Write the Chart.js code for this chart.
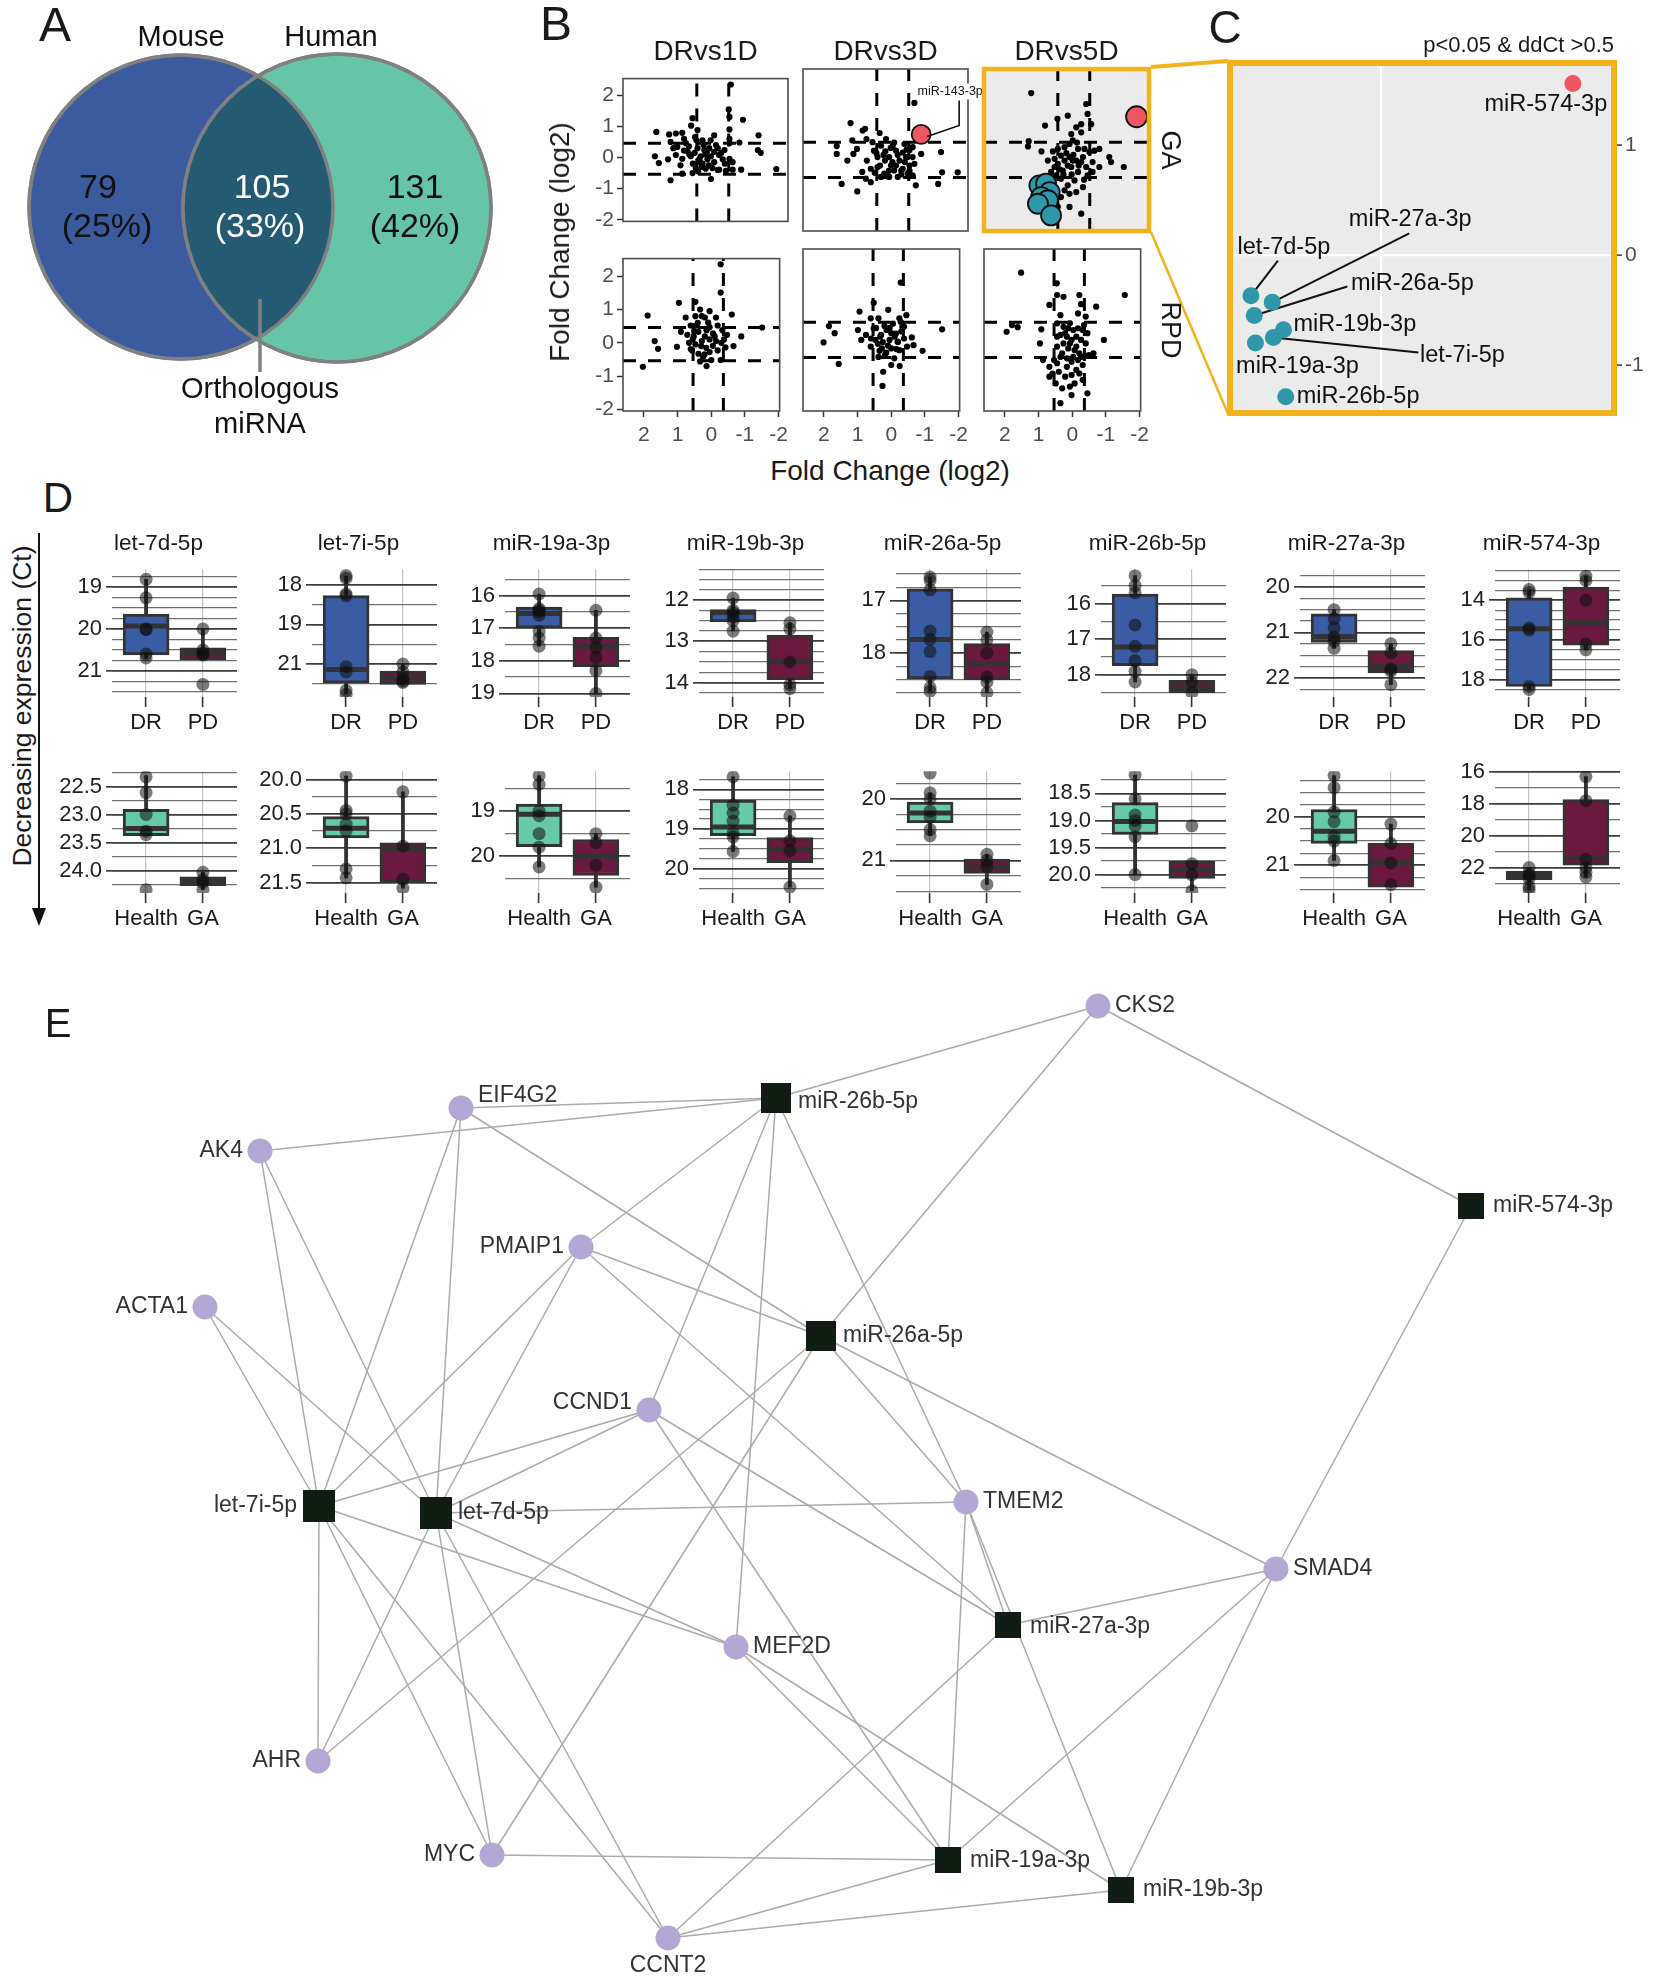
<!DOCTYPE html>
<html>
<head>
<meta charset="utf-8">
<title>miRNA figure</title>
<script src="https://cdn.jsdelivr.net/npm/chart.js@4.4.1/dist/chart.umd.min.js"></script>
<style>
  body { margin: 0; background: #fff; }
  #page { position: relative; width: 1654px; height: 1978px; overflow: hidden; background: #fff;
          font-family: "Liberation Sans", Arial, Helvetica, sans-serif; color: #1a1a1a; }
  #page canvas, #page svg { position: absolute; }
  .lbl { position: absolute; white-space: nowrap; line-height: 1; }
</style>
</head>
<body>
<div id="page"></div>
<script>
// ---------------- A: detected miRNAs, mouse vs human ----------------
var vennSets = ['Mouse', 'Human'];
var vennCounts = [79, 105, 131];
var vennShares = ['(25%)', '(33%)', '(42%)'];
var vennNote = ['Orthologous', 'miRNA'];

// ---------------- B: fold change (log2), x axis reversed ----------------
var bColumns = ['DRvs1D', 'DRvs3D', 'DRvs5D'];
var bRows = ['GA', 'RPD'];
var bTicks = [2, 1, 0, -1, -2];
var bCutX = [0.54, -0.36];
var bCutY = [0.46, -0.54];

var b1D_GA = [[-0.42,2.34],[-0.36,1.54],[-0.76,1.21],[-0.38,0.9],[0.66,1.26],[0.7,1.02],[0.52,0.88],[1.68,0.82],[1.32,0.74],[1.13,0.77],[0.95,0.79],[-1.2,0.71],[-0.66,0.48],[0.05,0.71],[0.59,0.65],[0.38,0.55],[0.85,0.46],[1.28,0.5],[1.09,0.34],[0.76,0.36],[0.52,0.3],[0.33,0.24],[0.19,0.3],[0.05,0.18],[-0.09,0.08],[-0.24,0.24],[-1.18,0.24],[-1.26,0.15],[1.72,0.04],[1.61,-0.18],[1.35,-0.06],[1.13,0.08],[0.95,-0.04],[0.9,0.22],[0.71,0.04],[0.43,0.04],[0.24,-0.06],[0.05,-0.15],[-0.19,-0.06],[-0.38,-0.04],[-0.47,-0.15],[0.57,-0.34],[0.29,-0.36],[0.1,-0.34],[-0.09,-0.39],[-0.28,-0.43],[-0.47,-0.39],[-0.71,-0.39],[-1.7,-0.37],[0.95,-0.52],[0.66,-0.5],[1.28,-0.73],[0.14,-0.69],[0.47,-0.06],[0.38,-0.2],[0.14,0.04],[-0.05,0.3],[-0.38,0.46],[0.3,0.1],[0.6,0.15],[0.8,0.2],[0.45,-0.15],[0.2,-0.25],[-0.15,0.15],[0.0,0.4],[0.65,-0.2],[0.9,0.6],[1.0,-0.25],[0.15,0.55],[-0.25,-0.2],[0.35,0.4],[0.75,0.1],[-0.05,-0.4],[0.5,-0.45],[1.2,0.3],[0.25,0.2],[0.55,0.55],[0.4,-0.3],[-0.38,1.3],[-0.38,0.6]];
var b3D_GA = [[1.28,1.0],[-0.52,1.57],[0.46,0.72],[0.87,0.84],[1.67,0.35],[1.67,0.13],[1.53,-0.72],[1.09,-0.93],[-1.27,0.18],[-1.74,-0.39],[-1.3,-0.39],[-1.19,-0.72],[-0.56,-0.76],[-0.8,0.75],[0.94,0.79],[1.23,0.51],[0.83,0.55],[0.66,0.46],[1.2,0.13],[1.37,-0.06],[1.1,0.27],[0.82,-0.06],[0.95,-0.38],[0.85,-0.57],[0.71,-0.29],[0.52,0.04],[0.42,0.36],[0.28,0.55],[0.19,0.04],[0.14,-0.2],[0.33,-0.43],[0.52,-0.24],[0.62,0.22],[0.0,0.22],[-0.1,-0.06],[-0.15,-0.34],[-0.05,-0.52],[-0.24,0.41],[-0.33,0.04],[-0.38,-0.2],[0.42,-0.52],[0.19,-0.52],[0.71,-0.67],[0.09,0.36],[-0.19,0.17],[0.05,-0.34],[0.31,-0.06],[-0.47,0.32],[-0.47,-0.48],[-0.38,0.23],[-0.28,0.04],[-0.47,0.04],[-0.38,-0.34],[-0.19,-0.29],[-0.52,-0.15],[-0.33,-0.43],[-0.71,0.13],[0.3,0.2],[0.1,-0.1],[-0.05,0.1],[0.2,-0.35],[0.45,-0.2],[0.6,-0.4],[0.0,-0.2],[-0.25,-0.1],[0.35,0.1],[0.15,0.3],[-0.15,-0.45],[0.55,0.15],[0.25,-0.5],[-0.3,0.25],[0.05,0.45]];
var b5D_GA = [[1.29,1.85],[-0.26,1.54],[-0.3,1.26],[0.26,1.21],[0.55,1.12],[0.9,0.93],[-0.12,0.97],[-0.4,0.97],[0.16,0.69],[0.02,0.88],[-0.12,0.74],[1.38,0.34],[1.36,0.49],[1.0,0.2],[0.68,0.2],[0.54,0.27],[0.35,0.32],[0.21,0.41],[0.12,0.51],[-0.03,0.27],[-0.21,0.27],[-0.35,0.18],[-0.49,0.22],[-0.63,0.27],[-0.91,0.04],[-0.96,-0.1],[-1.32,-0.24],[-0.63,-0.24],[-0.44,-0.38],[-0.26,-0.24],[-0.12,-0.1],[0.02,-0.06],[0.21,0.04],[0.35,-0.06],[0.45,0.08],[0.54,-0.15],[0.63,-0.24],[0.73,-0.38],[0.59,-0.48],[0.4,-0.34],[0.16,-0.24],[-0.03,-0.38],[-0.3,-0.48],[0.07,-0.62],[0.26,-0.76],[0.35,-0.9],[0.45,-1.09],[0.21,-1.0],[0.02,-0.95],[-0.17,-0.81],[0.54,-1.37],[0.21,-1.37],[-0.12,-1.56],[0.45,-0.57],[-0.44,-0.1],[-0.17,0.04],[0.26,-0.2],[0.12,-0.06],[0.63,-0.01],[0.82,-0.06],[0.3,0.15],[0.1,0.1],[-0.05,-0.2],[0.5,-0.3],[0.7,-0.6],[0.6,-0.85],[0.38,-0.45],[-0.2,-0.6],[0.15,-0.45],[0.0,0.45]];
var b1D_RPD = [[-0.28,2.36],[-0.28,1.51],[0.47,1.23],[0.96,1.2],[1.89,0.82],[-1.51,0.46],[1.68,0.05],[1.58,-0.18],[1.02,-0.12],[2.03,-0.72],[0.14,-0.7],[-0.61,0.85],[-0.89,0.19],[-0.66,-0.1],[0.76,0.76],[0.33,1.0],[0.05,0.95],[0.61,0.52],[0.47,0.8],[0.19,0.76],[-0.14,0.76],[-0.19,0.52],[0.9,0.33],[0.71,0.24],[0.52,0.19],[0.38,0.33],[0.14,0.38],[-0.05,0.28],[-0.33,0.38],[-0.47,0.24],[0.66,0.0],[0.47,-0.05],[0.28,0.05],[0.05,0.1],[-0.14,0.05],[-0.38,0.1],[-0.42,-0.14],[0.57,-0.23],[0.38,-0.33],[0.24,-0.42],[0.05,-0.28],[-0.19,-0.23],[-0.28,-0.52],[0.33,-0.56],[0.0,-0.52],[0.43,0.52],[0.05,0.47],[0.19,0.19],[0.61,-0.19],[-0.05,-0.09],[0.09,0.61],[0.28,0.8],[0.3,-0.1],[0.15,-0.15],[0.5,0.35],[-0.1,0.2],[0.4,0.6],[0.2,-0.35],[-0.3,0.0],[0.55,0.1]];
var b3D_RPD = [[2.01,-0.11],[1.85,0.35],[1.68,0.15],[1.56,-0.72],[0.94,0.76],[0.52,1.01],[0.26,-1.34],[0.24,-0.94],[-0.28,1.58],[0.09,0.81],[0.38,0.57],[0.99,0.24],[0.89,-0.04],[0.75,0.1],[0.61,-0.23],[0.52,0.28],[0.47,-0.04],[0.33,0.05],[0.28,-0.28],[0.38,-0.52],[0.19,-0.47],[0.14,0.24],[0.05,-0.04],[0.0,-0.28],[-0.05,0.42],[-0.14,0.14],[-0.19,-0.09],[-0.09,-0.56],[-0.24,-0.33],[-0.33,0.33],[-0.38,0.0],[-0.47,-0.23],[0.61,0.57],[0.0,-0.75],[-0.24,0.57],[-1.51,0.26],[-0.93,-0.35],[-0.66,-0.19],[-0.61,0.03],[-0.25,-0.78],[-0.45,0.66],[-0.38,0.33],[-0.28,0.47],[0.3,0.1],[0.1,-0.2],[-0.1,0.05],[0.2,0.35],[0.4,-0.15],[0.0,0.15],[-0.2,-0.1],[0.15,-0.4],[0.45,0.3],[-0.3,0.2],[0.25,-0.1],[0.05,0.3],[-0.15,-0.3],[0.35,-0.35],[0.6,0.0]];
var b5D_RPD = [[1.52,1.86],[-1.56,1.23],[0.46,1.56],[0.45,1.23],[0.26,1.18],[-0.21,1.23],[-0.26,0.97],[-0.17,0.71],[-0.4,0.62],[-0.71,0.9],[0.68,0.95],[0.35,0.66],[1.95,0.19],[1.79,0.38],[1.62,0.32],[0.92,0.26],[0.96,-0.14],[-0.94,-0.04],[0.45,0.43],[0.26,0.33],[0.12,0.29],[-0.03,0.24],[-0.17,0.29],[-0.31,0.24],[-0.45,0.15],[0.35,0.1],[0.16,0.05],[0.02,-0.04],[-0.12,0.05],[-0.26,-0.04],[-0.4,-0.14],[0.26,-0.14],[0.45,-0.23],[0.12,-0.28],[-0.07,-0.33],[-0.21,-0.42],[-0.49,-0.47],[-0.63,-0.42],[0.87,-0.61],[0.68,-0.8],[0.54,-0.61],[0.35,-0.52],[0.16,-0.56],[0.02,-0.66],[-0.17,-0.61],[-0.31,-0.75],[0.59,-0.99],[0.4,-0.94],[0.21,-1.08],[0.02,-1.03],[-0.21,-0.99],[-0.31,-1.17],[0.68,-1.08],[0.49,-1.27],[0.3,-1.41],[0.07,-1.36],[-0.07,-1.27],[-0.45,-1.55],[0.02,-1.6],[0.35,-1.83],[0.21,0.15],[0.07,-0.14],[-0.12,-0.23],[0.3,-0.42],[-0.03,-0.52],[0.16,-0.8],[-0.12,-0.89],[0.45,-0.7],[-0.26,-0.52],[0.07,0.43],[-0.35,0.38],[0.45,0.05]];
var b3D_GA_up = [[-0.71, 0.68]];
var b3D_GA_upNames = ['miR-143-3p'];
var b5D_GA_up = [[-1.68, 1.18]];
var b5D_GA_down = [[1.06,-0.76],[0.87,-0.71],[0.77,-0.95],[1.01,-1.09],[0.82,-1.18],[1.10,-1.28],[0.73,-1.61]];

// ---------------- C: p<0.05 & ddCt > 0.5 (DRvs5D, GA) ----------------
var cNames = ['miR-574-3p', 'let-7d-5p', 'miR-27a-3p', 'miR-26a-5p', 'miR-19b-3p', 'let-7i-5p', 'miR-19a-3p', 'miR-26b-5p'];
var cX = [-1.71, 1.16, 0.97, 1.13, 0.87, 0.96, 1.12, 0.85];
var cY = [1.56, -0.37, -0.43, -0.55, -0.68, -0.75, -0.80, -1.29];
var cTicks = [1, 0, -1];

// ---------------- D: Ct values (lower Ct = higher expression) ----------------
var dMirnas = ['let-7d-5p', 'let-7i-5p', 'miR-19a-3p', 'miR-19b-3p', 'miR-26a-5p', 'miR-26b-5p', 'miR-27a-3p', 'miR-574-3p'];
var dGroupsTop = ['DR', 'PD'];
var dGroupsBottom = ['Health', 'GA'];
// [whisker end (low Ct), Q1, median, Q3, whisker end (high Ct)]
var dBoxDR = [[18.82,19.65,19.93,20.62,20.7],[17.67,18.41,21.21,21.73,22.12],[15.95,16.35,16.55,17.0,17.55],[11.95,12.23,12.3,12.53,12.75],[16.56,16.78,17.74,18.49,18.72],[15.22,15.74,17.22,17.74,18.2],[20.5,20.59,21.09,21.22,21.35],[13.46,13.88,15.44,18.35,18.5]];
var dBoxPD = [[20.0,20.45,20.58,20.74,20.74],[21.0,21.27,21.53,21.77,21.8],[16.45,17.28,17.55,18.18,19.0],[12.55,12.85,13.48,13.93,14.15],[17.6,17.82,18.2,18.5,18.75],[18.0,18.15,18.35,18.5,18.5],[21.25,21.4,21.75,21.89,22.15],[12.78,13.33,15.13,16.27,16.5]];
var dBoxHealth = [[22.3,22.9,23.24,23.37,23.37],[19.95,20.54,20.71,20.85,21.43],[18.21,18.84,19.07,19.79,20.24],[17.68,18.27,18.95,19.17,19.57],[19.9,20.05,20.23,20.39,20.6],[18.16,18.67,19.02,19.26,20.0],[19.15,19.85,20.3,20.55,20.9],[22.0,22.23,22.5,22.76,23.4]];
var dBoxGA = [[24.02,24.1,24.18,24.26,24.33],[20.18,20.92,21.01,21.49,21.58],[19.5,19.63,20.0,20.43,20.69],[18.67,19.22,19.52,19.85,20.47],[20.9,20.98,21.11,21.21,21.39],[19.75,19.75,19.91,20.07,20.3],[20.15,20.54,20.94,21.45,21.45],[16.29,17.74,21.37,21.85,22.6]];
var dPtsDR = [[18.82,19.26,20.0,20.02,20.6,20.69],[17.65,17.75,18.35,18.42,21.1,21.3,22.0,22.15],[15.95,16.4,16.45,16.5,16.6,17.1,17.3,17.55],[11.95,12.25,12.3,12.4,12.5,12.75],[16.56,16.62,16.8,17.58,17.74,17.97,18.44,18.65,18.72],[15.22,15.5,15.7,16.6,17.2,17.6,17.9,18.2],[20.5,20.7,20.9,21.1,21.2,21.35],[13.46,13.6,15.4,15.5,18.35,18.5]];
var dPtsPD = [[20.0,20.5,20.58,20.62,21.32],[21.0,21.3,21.55,21.65,21.7],[16.45,17.3,17.6,17.9,18.3,19.0],[12.55,12.7,13.5,14.05,14.15],[17.6,17.75,18.0,18.45,18.55,18.75],[18.0,18.2,18.5],[21.25,21.45,21.8,21.85,22.15],[12.78,13.0,14.0,16.2,16.5]];
var dPtsHealth = [[22.32,22.6,22.99,23.29,23.35,24.33],[19.95,20.45,20.5,20.65,20.75,21.3,21.43],[18.21,18.4,19.0,19.1,19.5,19.8,20.24],[17.68,18.4,18.6,18.8,19.1,19.2,19.57],[19.58,19.9,20.0,20.2,20.3,20.5,20.6],[18.16,18.6,18.9,19.0,19.1,19.3,20.0],[19.15,19.4,19.9,20.1,20.4,20.5,20.9],[22.0,22.4,22.5,22.7,23.2,23.4]];
var dPtsGA = [[24.02,24.15,24.2,24.33],[20.18,20.97,21.45,21.58],[19.5,19.7,20.2,20.69],[18.67,19.3,19.55,20.47],[20.9,21.0,21.1,21.39],[19.1,19.8,20.0,20.3],[20.15,20.55,20.95,21.4],[16.29,17.8,21.5,22.0,22.3,22.6]];
var dTicksTop = [[19,20,21],[18,19.5,21],[16,17,18,19],[12,13,14],[17,18],[16,17,18],[20,21,22],[14,16,18]];
var dTickLabelsTop = [['19','20','21'],['18','19','21'],['16','17','18','19'],['12','13','14'],['17','18'],['16','17','18'],['20','21','22'],['14','16','18']];
var dTicksBottom = [[22.5,23,23.5,24],[20,20.5,21,21.5],[19,20],[18,19,20],[20,21],[18.5,19,19.5,20],[20,21],[16,18,20,22]];
var dTickLabelsBottom = [['22.5','23.0','23.5','24.0'],['20.0','20.5','21.0','21.5'],['19','20'],['18','19','20'],['20','21'],['18.5','19.0','19.5','20.0'],['20','21'],['16','18','20','22']];

// ---------------- E: miRNA - target gene network ----------------
var eGenes = ['CKS2', 'EIF4G2', 'AK4', 'PMAIP1', 'ACTA1', 'CCND1', 'TMEM2', 'SMAD4', 'MEF2D', 'AHR', 'MYC', 'CCNT2'];
var eMirnas = ['miR-26b-5p', 'miR-574-3p', 'miR-26a-5p', 'let-7i-5p', 'let-7d-5p', 'miR-27a-3p', 'miR-19a-3p', 'miR-19b-3p'];
var eEdges = [
  ['CKS2','miR-26b-5p'],['CKS2','miR-574-3p'],['CKS2','miR-26a-5p'],
  ['EIF4G2','miR-26b-5p'],['EIF4G2','let-7i-5p'],['EIF4G2','let-7d-5p'],['EIF4G2','miR-26a-5p'],
  ['AK4','miR-26b-5p'],['AK4','let-7i-5p'],['AK4','let-7d-5p'],
  ['PMAIP1','miR-26b-5p'],['PMAIP1','let-7i-5p'],['PMAIP1','let-7d-5p'],['PMAIP1','miR-26a-5p'],['PMAIP1','miR-27a-3p'],
  ['ACTA1','let-7i-5p'],['ACTA1','let-7d-5p'],
  ['CCND1','miR-26b-5p'],['CCND1','let-7i-5p'],['CCND1','let-7d-5p'],['CCND1','miR-27a-3p'],['CCND1','miR-19a-3p'],
  ['TMEM2','miR-26b-5p'],['TMEM2','miR-26a-5p'],['TMEM2','let-7d-5p'],['TMEM2','miR-27a-3p'],['TMEM2','miR-19a-3p'],['TMEM2','miR-19b-3p'],
  ['SMAD4','miR-26a-5p'],['SMAD4','miR-27a-3p'],['SMAD4','miR-574-3p'],['SMAD4','miR-19a-3p'],['SMAD4','miR-19b-3p'],
  ['MEF2D','miR-26b-5p'],['MEF2D','let-7i-5p'],['MEF2D','let-7d-5p'],['MEF2D','miR-19a-3p'],['MEF2D','miR-19b-3p'],
  ['AHR','let-7i-5p'],['AHR','let-7d-5p'],['AHR','miR-26a-5p'],
  ['MYC','let-7i-5p'],['MYC','let-7d-5p'],['MYC','miR-26a-5p'],['MYC','miR-19a-3p'],
  ['CCNT2','let-7i-5p'],['CCNT2','let-7d-5p'],['CCNT2','miR-27a-3p'],['CCNT2','miR-19a-3p'],['CCNT2','miR-19b-3p']
];

// ================= layout & style (not data) =================
var FONT = '"Liberation Sans", Arial, Helvetica, sans-serif';
var COL = { blue: '#3A5C9F', green: '#66C5A8', overlap: '#245B73', ring: '#808080',
  dr: '#3A5CA4', pd: '#6B1941', health: '#66C9A9', ga: '#6B1941',
  teal: '#2E98AA', red: '#EF5760', orange: '#F2B21C', panel: '#EBEBEB',
  gene: '#B4A7D5', mir: '#0F1D13', edge: '#ABABAB' };

var vennLayout = { circles: [[181, 207, 152], [337, 208, 154]],
  sets: [[181, 38], [331, 38]], counts: [[98, 189], [262, 189], [415, 189]],
  shares: [[107, 228], [260, 228], [415, 228]], pointer: [[260, 299], [260, 372]],
  note: [[260, 390], [260, 425]] };

var bLeft = [623, 803, 984], bTop = [69, 249], bW = 165, bH = 162;
var bXRange = [-2.03, 2.62], bYRange = [-2.05, 2.53];

// label offsets (px) from each point in C, and leader line end
var cLabelLayout = [
  { dx: -27, dy: 21, align: 'center' },
  { dx: 33, dy: -48, align: 'center', lead: [27, -35] },
  { dx: 138, dy: -83, align: 'center', lead: [137, -69] },
  { dx: 158, dy: -32, align: 'center', lead: [93, -29] },
  { dx: 10, dy: -5, align: 'left' },
  { dx: 189, dy: 18, align: 'center', lead: [145, 15] },
  { dx: 42, dy: 24, align: 'center' },
  { dx: 11, dy: 0, align: 'left' }
];

var dLeft = [112, 312, 505, 699, 896, 1101, 1300, 1495], dW = 125;
var dTop = [560, 762], dH = [137, 131];
var dStepTop = [0.25, 0.75, 0.5, 0.25, 0.25, 0.5, 0.25, 0.5];
var dStepBottom = [0.25, 0.25, 0.5, 0.25, 0.25, 0.25, 0.25, 1];
var dRangeTop = [[18.58,21.62],[17.41,22.25],[15.19,19.11],[11.25,14.35],[16.41,18.83],[15.04,18.62],[19.61,22.42],[12.43,18.88]];
var dRangeBottom = [[22.22,24.39],[19.88,21.65],[18.11,20.82],[17.54,20.62],[19.55,21.53],[18.09,20.34],[19.06,21.57],[15.95,23.6]];

// node positions from the network layout
var eLayout = {
  'CKS2': [1098, 1006], 'EIF4G2': [461, 1108], 'AK4': [260, 1151], 'PMAIP1': [581, 1247], 'ACTA1': [205, 1307],
  'CCND1': [649, 1410], 'TMEM2': [966, 1502], 'SMAD4': [1276, 1569], 'MEF2D': [736, 1647], 'AHR': [318, 1761],
  'MYC': [492, 1855], 'CCNT2': [668, 1938],
  'miR-26b-5p': [776, 1098], 'miR-574-3p': [1471, 1206], 'miR-26a-5p': [821, 1336], 'let-7i-5p': [319, 1506],
  'let-7d-5p': [436, 1513], 'miR-27a-3p': [1008, 1625], 'miR-19a-3p': [948, 1860], 'miR-19b-3p': [1121, 1890]
};
var eLabelPos = {
  'CKS2': ['r', 0], 'EIF4G2': ['r', -12], 'AK4': ['l', 0], 'PMAIP1': ['l', 0], 'ACTA1': ['l', 0], 'CCND1': ['l', -7],
  'TMEM2': ['r', 0], 'SMAD4': ['r', 0], 'MEF2D': ['r', 0], 'AHR': ['l', 0], 'MYC': ['l', 0], 'CCNT2': ['b', 0],
  'miR-26b-5p': ['r', 4], 'miR-574-3p': ['r', 0], 'miR-26a-5p': ['r', 0], 'let-7i-5p': ['l', 0], 'let-7d-5p': ['r', 0],
  'miR-27a-3p': ['r', 2], 'miR-19a-3p': ['r', 1], 'miR-19b-3p': ['r', 0]
};
var eSquare = { 'let-7i-5p': 32, 'let-7d-5p': 32, 'miR-26b-5p': 30, 'miR-26a-5p': 30 };

// ================= helpers =================
Chart.defaults.font.family = FONT;
Chart.defaults.color = '#333';
Chart.defaults.animation = false;
Chart.defaults.responsive = false;
Chart.defaults.maintainAspectRatio = false;
Chart.defaults.events = [];
Chart.defaults.plugins.legend.display = false;
Chart.defaults.plugins.tooltip.enabled = false;

var page = document.getElementById('page');

function canvasAt(left, top, w, h) {
  var c = document.createElement('canvas');
  c.width = w; c.height = h;
  c.style.left = left + 'px'; c.style.top = top + 'px';
  c.style.width = w + 'px'; c.style.height = h + 'px';
  page.appendChild(c);
  return c;
}
function label(txt, x, y, size, o) {
  o = o || {};
  var d = document.createElement('div');
  d.className = 'lbl';
  d.textContent = txt;
  d.style.left = x + 'px'; d.style.top = y + 'px';
  d.style.fontSize = size + 'px';
  if (o.color) d.style.color = o.color;
  var tx = o.align === 'left' ? '0' : (o.align === 'right' ? '-100%' : '-50%');
  d.style.transform = 'translate(' + tx + ',-50%)' + (o.rotate ? ' rotate(' + o.rotate + 'deg)' : '');
  page.appendChild(d);
}
function fixSize(px) { return function (s) { if (s.isHorizontal()) s.height = px; else s.width = px; }; }
function setTicks(vals) { return function (s) { s.ticks = vals.map(function (v) { return { value: v }; }); }; }
function xy(p) { return { x: p[0], y: p[1] }; }

// ================= A =================
(function () {
  var cv = canvasAt(0, 0, 560, 470);
  new Chart(cv, {
    type: 'bubble',
    data: { datasets: [{
      data: vennLayout.circles.map(function (c) { return { x: c[0], y: c[1], r: c[2] }; }),
      backgroundColor: [COL.blue, COL.green], borderColor: COL.ring, borderWidth: 3.5
    }] },
    options: {
      layout: { autoPadding: false, padding: 0 },
      scales: { x: { display: false, min: 0, max: 560 }, y: { display: false, min: 0, max: 470, reverse: true } }
    },
    plugins: [{
      id: 'venn',
      afterDatasetsDraw: function (ch) {
        var ctx = ch.ctx, sx = ch.scales.x, sy = ch.scales.y;
        var els = ch.getDatasetMeta(0).data;
        var a = els[0], b = els[1], ra = a.options.radius, rb = b.options.radius;
        ctx.save();
        ctx.beginPath(); ctx.arc(a.x, a.y, ra, 0, Math.PI * 2); ctx.clip();
        ctx.beginPath(); ctx.arc(b.x, b.y, rb, 0, Math.PI * 2);
        ctx.fillStyle = COL.overlap; ctx.fill();
        ctx.restore();
        ctx.save();
        ctx.strokeStyle = COL.ring; ctx.lineWidth = 3.5;
        [[a, ra], [b, rb]].forEach(function (c) {
          ctx.beginPath(); ctx.arc(c[0].x, c[0].y, c[1], 0, Math.PI * 2); ctx.stroke();
        });
        var p = vennLayout.pointer;
        ctx.beginPath();
        ctx.moveTo(sx.getPixelForValue(p[0][0]), sy.getPixelForValue(p[0][1]));
        ctx.lineTo(sx.getPixelForValue(p[1][0]), sy.getPixelForValue(p[1][1]));
        ctx.stroke();
        ctx.textAlign = 'center'; ctx.textBaseline = 'middle';
        function put(t, pos, size, color) {
          ctx.font = size + 'px ' + FONT; ctx.fillStyle = color;
          ctx.fillText(t, sx.getPixelForValue(pos[0]), sy.getPixelForValue(pos[1]));
        }
        vennSets.forEach(function (s, i) { put(s, vennLayout.sets[i], 29, '#111'); });
        vennCounts.forEach(function (n, i) { put(String(n), vennLayout.counts[i], 34, i === 1 ? '#fff' : '#111'); });
        vennShares.forEach(function (s, i) { put(s, vennLayout.shares[i], 34, i === 1 ? '#fff' : '#111'); });
        vennNote.forEach(function (s, i) { put(s, vennLayout.note[i], 29, '#111'); });
        ctx.restore();
      }
    }]
  });
})();

// ================= B =================
var bSets = [[b1D_GA, b3D_GA, b5D_GA], [b1D_RPD, b3D_RPD, b5D_RPD]];

function bPanel(c, r) {
  var sel = (c === 2 && r === 0);
  var callout = (c === 1 && r === 0);
  var padL = c === 0 ? 44 : 6, padB = r === 1 ? 40 : 6, padT = 6, padR = callout ? 26 : 6;
  var cv = canvasAt(bLeft[c] - padL, bTop[r] - padT, bW + padL + padR, bH + padT + padB);
  var ds = [];
  var dash = { type: 'scatter', showLine: true, pointRadius: 0, borderColor: '#000', borderWidth: 3, borderDash: [13, 12], order: 1 };
  bCutX.forEach(function (t) { ds.push(Object.assign({ data: [{ x: t, y: bYRange[0] }, { x: t, y: bYRange[1] }] }, dash)); });
  bCutY.forEach(function (t) { ds.push(Object.assign({ data: [{ x: bXRange[1], y: t }, { x: bXRange[0], y: t }] }, dash)); });
  ds.push({ type: 'scatter', data: bSets[r][c].map(xy), pointRadius: 3.1, backgroundColor: '#000', borderWidth: 0, order: 2 });
  if (callout) {
    ds.push({ type: 'scatter', data: b3D_GA_up.map(xy), pointRadius: 9.5, backgroundColor: COL.red, borderColor: '#111', borderWidth: 1.8, order: 0 });
  }
  if (sel) {
    ds.push({ type: 'scatter', data: b5D_GA_up.map(xy), pointRadius: 10.5, backgroundColor: COL.red, borderColor: '#111', borderWidth: 1.8, order: 0 });
    ds.push({ type: 'scatter', data: b5D_GA_down.map(xy), pointRadius: 10, backgroundColor: COL.teal, borderColor: '#111', borderWidth: 1.8, order: 0 });
  }
  new Chart(cv, {
    type: 'scatter',
    data: { datasets: ds },
    options: {
      layout: { autoPadding: false, padding: { left: 0, top: padT, right: padR, bottom: 0 } },
      scales: {
        x: { type: 'linear', reverse: true, min: bXRange[0], max: bXRange[1],
             afterBuildTicks: setTicks(bTicks), afterFit: fixSize(padB), border: { display: false },
             grid: { display: r === 1, drawOnChartArea: false, tickLength: 6, tickColor: '#333', tickWidth: 1.5 },
             ticks: { display: r === 1, font: { size: 21 }, color: '#4d4d4d', padding: 6, maxRotation: 0, autoSkip: false } },
        y: { type: 'linear', min: bYRange[0], max: bYRange[1],
             afterBuildTicks: setTicks(bTicks), afterFit: fixSize(padL), border: { display: false },
             grid: { display: c === 0, drawOnChartArea: false, tickLength: 6, tickColor: '#333', tickWidth: 1.5 },
             ticks: { display: c === 0, font: { size: 21 }, color: '#4d4d4d', padding: 3, autoSkip: false } }
      }
    },
    plugins: [{
      id: 'frame',
      beforeDraw: function (ch) {
        if (!sel) return;
        var a = ch.chartArea, ctx = ch.ctx;
        ctx.save(); ctx.fillStyle = COL.panel;
        ctx.fillRect(a.left, a.top, a.right - a.left, a.bottom - a.top);
        ctx.restore();
      },
      afterDraw: function (ch) {
        var a = ch.chartArea, ctx = ch.ctx;
        ctx.save();
        ctx.strokeStyle = sel ? COL.orange : '#4d4d4d';
        ctx.lineWidth = sel ? 4.5 : 1.6;
        ctx.strokeRect(a.left, a.top, a.right - a.left, a.bottom - a.top);
        if (callout) {
          // miR-143-3p call-out
          var px = ch.scales.x.getPixelForValue(b3D_GA_up[0][0]);
          var py = ch.scales.y.getPixelForValue(b3D_GA_up[0][1]);
          ctx.strokeStyle = '#111'; ctx.lineWidth = 1.6;
          ctx.beginPath(); ctx.moveTo(px + 6, py + 2); ctx.lineTo(px + 38, py - 9); ctx.lineTo(px + 38, py - 34); ctx.stroke();
          ctx.font = '12.5px ' + FONT;
          var tw = ctx.measureText(b3D_GA_upNames[0]).width;
          ctx.fillStyle = '#fff';
          ctx.fillRect(px + 29 - tw / 2 - 3, py - 43 - 8, tw + 6, 16);
          ctx.fillStyle = '#111'; ctx.textAlign = 'center'; ctx.textBaseline = 'middle';
          ctx.fillText(b3D_GA_upNames[0], px + 29, py - 43);
        }
        ctx.restore();
      }
    }]
  });
}
for (var br = 0; br < 2; br++) for (var bc = 0; bc < 3; bc++) bPanel(bc, br);

// ================= C =================
(function () {
  var L = 1140, T = 40;
  var cv = canvasAt(L, T, 514, 392);
  new Chart(cv, {
    type: 'scatter',
    data: { datasets: [{
      data: cX.map(function (x, i) { return { x: x, y: cY[i] }; }),
      pointRadius: 8.5, borderWidth: 0,
      backgroundColor: cY.map(function (v) { return v > 0 ? COL.red : COL.teal; })
    }] },
    options: {
      layout: { autoPadding: false, padding: { left: 93, top: 26, right: 0, bottom: 0 } },
      scales: {
        x: { type: 'linear', reverse: true, min: -2.05, max: 1.32, afterBuildTicks: setTicks([0]), afterFit: fixSize(22),
             border: { display: false }, grid: { color: '#fff', lineWidth: 2.2, drawTicks: false }, ticks: { display: false } },
        y: { type: 'linear', position: 'right', min: -1.41, max: 1.72, afterBuildTicks: setTicks(cTicks), afterFit: fixSize(43),
             border: { display: false },
             grid: { color: function (ctx) { return ctx.tick && ctx.tick.value === 0 ? '#fff' : 'rgba(0,0,0,0)'; },
                     lineWidth: 2.2, tickColor: '#333', tickLength: 11, tickWidth: 1.5 },
             ticks: { font: { size: 21 }, color: '#4d4d4d', padding: 3, autoSkip: false } }
      }
    },
    plugins: [{
      id: 'zoomBox',
      beforeDraw: function (ch) {
        var a = ch.chartArea, ctx = ch.ctx;
        ctx.save();
        ctx.fillStyle = COL.panel;
        ctx.fillRect(a.left, a.top, a.right - a.left, a.bottom - a.top);
        // connectors from the DRvs5D / GA panel
        var bx = bLeft[2] + bW + 2 - L;
        ctx.strokeStyle = COL.orange;
        ctx.lineWidth = 4;
        ctx.beginPath(); ctx.moveTo(bx, bTop[0] - 2 - T); ctx.lineTo(a.left - 5, a.top - 5); ctx.stroke();
        ctx.lineWidth = 2.5;
        ctx.beginPath(); ctx.moveTo(bx, bTop[0] + bH + 1 - T); ctx.lineTo(a.left - 5, a.bottom + 4); ctx.stroke();
        ctx.restore();
      },
      beforeDatasetsDraw: function (ch) {
        var ctx = ch.ctx, els = ch.getDatasetMeta(0).data;
        ctx.save(); ctx.strokeStyle = '#111'; ctx.lineWidth = 2;
        cLabelLayout.forEach(function (lay, i) {
          if (!lay.lead) return;
          ctx.beginPath(); ctx.moveTo(els[i].x, els[i].y);
          ctx.lineTo(els[i].x + lay.lead[0], els[i].y + lay.lead[1]); ctx.stroke();
        });
        ctx.restore();
      },
      afterDatasetsDraw: function (ch) {
        var ctx = ch.ctx, els = ch.getDatasetMeta(0).data;
        ctx.save(); ctx.font = '23.5px ' + FONT; ctx.fillStyle = '#111'; ctx.textBaseline = 'middle';
        cNames.forEach(function (n, i) {
          var lay = cLabelLayout[i];
          ctx.textAlign = lay.align;
          ctx.fillText(n, els[i].x + lay.dx, els[i].y + lay.dy);
        });
        ctx.restore();
      },
      afterDraw: function (ch) {
        var a = ch.chartArea, ctx = ch.ctx;
        ctx.save(); ctx.strokeStyle = COL.orange; ctx.lineWidth = 6;
        ctx.strokeRect(a.left - 3, a.top - 3, a.right - a.left + 6, a.bottom - a.top + 6);
        ctx.restore();
      }
    }]
  });
})();

// ================= D =================
function dPanel(i, r) {
  var padL = 56, padR = 6, padT = 8, padB = 48;
  var cv = canvasAt(dLeft[i] - padL, dTop[r] - padT, dW + padL + padR, dH[r] + padT + padB);
  var groups = r ? dGroupsBottom : dGroupsTop;
  var stats = r ? [dBoxHealth[i], dBoxGA[i]] : [dBoxDR[i], dBoxPD[i]];
  var pts = r ? [dPtsHealth[i], dPtsGA[i]] : [dPtsDR[i], dPtsPD[i]];
  var fills = r ? [COL.health, COL.ga] : [COL.dr, COL.pd];
  var major = r ? dTicksBottom[i] : dTicksTop[i];
  var majorLab = r ? dTickLabelsBottom[i] : dTickLabelsTop[i];
  var step = r ? dStepBottom[i] : dStepTop[i];
  var rng = r ? dRangeBottom[i] : dRangeTop[i];
  var fine = [];
  for (var k = Math.ceil(rng[0] / step - 1e-9); k * step <= rng[1] + 1e-9; k++) fine.push(+(k * step).toFixed(4));
  function majorIdx(v) {
    for (var j = 0; j < major.length; j++) if (Math.abs(major[j] - v) < 1e-6) return j;
    return -1;
  }
  function isMajor(ctx) { return ctx.tick ? majorIdx(ctx.tick.value) >= 0 : false; }
  var pointData = [];
  pts.forEach(function (arr, g) { arr.forEach(function (v) { pointData.push({ x: g + 1, y: v }); }); });
  new Chart(cv, {
    type: 'bar',
    data: { datasets: [
      { type: 'scatter', data: pointData, pointRadius: 6.5, backgroundColor: 'rgba(15,15,15,0.55)', borderWidth: 0, order: 0 },
      { data: stats.map(function (s, g) { return { x: g + 1, y: [s[1], s[3]] }; }), backgroundColor: fills,
        borderColor: '#333', borderWidth: 3, borderSkipped: false, barThickness: 46, grouped: false, order: 1 },
      { data: stats.map(function (s, g) { return { x: g + 1, y: [s[0], s[4]] }; }), backgroundColor: '#333',
        borderWidth: 0, barThickness: 3.2, grouped: false, order: 2 }
    ] },
    options: {
      layout: { autoPadding: false, padding: { left: 0, top: padT, right: padR, bottom: 0 } },
      scales: {
        x: { type: 'linear', min: 0.4, max: 2.6, offset: false, afterBuildTicks: setTicks([1, 2]), afterFit: fixSize(padB),
             border: { display: false },
             grid: { offset: false, color: '#c4c4c4', lineWidth: 1.2, tickColor: '#333', tickLength: 10, tickWidth: 1.6 },
             ticks: { callback: function (v) { return groups[v - 1]; }, font: { size: 22 }, color: '#1a1a1a', padding: 3, maxRotation: 0, autoSkip: false } },
        y: { type: 'linear', reverse: true, min: rng[0], max: rng[1], afterBuildTicks: setTicks(fine), afterFit: fixSize(padL),
             border: { display: false },
             grid: { color: function (c) { return isMajor(c) ? '#3c3c3c' : '#727272'; },
                     lineWidth: function (c) { return isMajor(c) ? 1.7 : 1.3; },
                     tickColor: function (c) { return isMajor(c) ? '#333' : 'rgba(0,0,0,0)'; },
                     tickLength: 6, tickWidth: 1.6 },
             ticks: { callback: function (v) { var j = majorIdx(v); return j >= 0 ? majorLab[j] : ''; },
                      font: { size: 22 }, color: '#222', padding: 4, autoSkip: false } }
      }
    },
    plugins: [{
      id: 'median',
      afterDatasetDraw: function (ch, args) {
        if (args.index !== 1) return;
        var ctx = ch.ctx, sx = ch.scales.x, sy = ch.scales.y;
        ctx.save(); ctx.strokeStyle = '#333'; ctx.lineWidth = 5;
        stats.forEach(function (s, g) {
          var px = sx.getPixelForValue(g + 1), py = sy.getPixelForValue(s[2]);
          ctx.beginPath(); ctx.moveTo(px - 22, py); ctx.lineTo(px + 22, py); ctx.stroke();
        });
        ctx.restore();
      }
    }]
  });
}
for (var di = 0; di < 8; di++) { dPanel(di, 0); dPanel(di, 1); }

// ================= E =================
(function () {
  var cv = canvasAt(0, 990, 1654, 988);
  var ds = eEdges.map(function (e) {
    return { type: 'scatter', showLine: true, data: [xy(eLayout[e[0]]), xy(eLayout[e[1]])],
             borderColor: COL.edge, borderWidth: 1.5, pointRadius: 0, order: 5 };
  });
  ds.push({ type: 'scatter', data: eGenes.map(function (n) { return xy(eLayout[n]); }), pointStyle: 'circle',
            pointRadius: 12.5, backgroundColor: COL.gene, borderWidth: 0, order: 0 });
  ds.push({ type: 'scatter', data: eMirnas.map(function (n) { return xy(eLayout[n]); }), pointStyle: 'rect',
            pointRadius: eMirnas.map(function (n) { return (eSquare[n] || 26) / Math.SQRT2; }),
            backgroundColor: COL.mir, borderWidth: 0, order: 0 });
  new Chart(cv, {
    type: 'scatter',
    data: { datasets: ds },
    options: {
      layout: { autoPadding: false, padding: 0 },
      scales: { x: { display: false, min: 0, max: 1654 }, y: { display: false, min: 990, max: 1978, reverse: true } }
    },
    plugins: [{
      id: 'nodeLabels',
      afterDatasetsDraw: function (ch) {
        var ctx = ch.ctx, sx = ch.scales.x, sy = ch.scales.y;
        ctx.save(); ctx.font = '23px ' + FONT; ctx.fillStyle = '#333'; ctx.textBaseline = 'middle';
        eGenes.concat(eMirnas).forEach(function (name) {
          var p = eLayout[name], lp = eLabelPos[name];
          var px = sx.getPixelForValue(p[0]), py = sy.getPixelForValue(p[1]);
          var gap = eMirnas.indexOf(name) >= 0 ? 22 : 17;
          if (lp[0] === 'r') { ctx.textAlign = 'left'; ctx.fillText(name, px + gap, py + lp[1]); }
          else if (lp[0] === 'l') { ctx.textAlign = 'right'; ctx.fillText(name, px - gap, py + lp[1]); }
          else { ctx.textAlign = 'center'; ctx.fillText(name, px, py + 28 + lp[1]); }
        });
        ctx.restore();
      }
    }]
  });
})();

// ================= text & decorations =================
label('A', 55, 25, 48);
label('B', 556, 24, 48);
label('C', 1225, 27, 46);
label('D', 58, 498, 42);
label('E', 58, 1023, 40);

bColumns.forEach(function (t, c) { label(t, bLeft[c] + bW / 2, 51, 28); });
label(bRows[0], 1170, bTop[0] + bH / 2, 27, { rotate: 90 });
label(bRows[1], 1170, bTop[1] + bH / 2, 27, { rotate: 90 });
label('Fold Change (log2)', 560, 242, 28, { rotate: -90 });
label('Fold Change (log2)', 890, 471, 28);
label('p<0.05 & ddCt >0.5', 1614, 45, 22, { align: 'right' });

dMirnas.forEach(function (m, i) { label(m, dLeft[i] + dW / 2 - 16, 543, 22.5); });
label('Decreasing expression (Ct)', 22, 706, 26.5, { rotate: -90 });
(function () {
  var ns = 'http://www.w3.org/2000/svg';
  var svg = document.createElementNS(ns, 'svg');
  svg.setAttribute('width', '60'); svg.setAttribute('height', '940');
  svg.style.left = '0px'; svg.style.top = '0px';
  var ln = document.createElementNS(ns, 'line');
  ln.setAttribute('x1', '39'); ln.setAttribute('y1', '533'); ln.setAttribute('x2', '39'); ln.setAttribute('y2', '912');
  ln.setAttribute('stroke', '#111'); ln.setAttribute('stroke-width', '2');
  var hd = document.createElementNS(ns, 'polygon');
  hd.setAttribute('points', '32,908 46,908 39,926');
  hd.setAttribute('fill', '#111');
  svg.appendChild(ln); svg.appendChild(hd);
  page.appendChild(svg);
})();
</script>
</body>
</html>
